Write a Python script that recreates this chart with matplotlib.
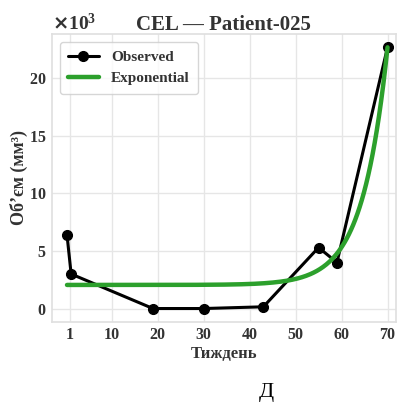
import numpy as np
import matplotlib
matplotlib.use("Agg")
import matplotlib.pyplot as plt
import seaborn as sns

# ================= DATA =================
weeks = [0.3, 1.2, 19, 30, 43, 55, 59, 70]
volume = [6400, 3000, 0, 0, 150, 5300, 4000, 22700]

# exponential model: y = base + amp * exp(rate * (x - x_ref))
fit_base = 2050
fit_amp = 20650
fit_rate = 0.184
fit_ref = 70

xticks = [1, 10, 20, 30, 40, 50, 60, 70]

# ================= STYLE =================
sns.set_theme(style="whitegrid")
plt.rcParams['font.family'] = ['Liberation Serif', 'DejaVu Serif']
plt.rcParams['font.weight'] = 'bold'
plt.rcParams['grid.color'] = '#e6e6e6'
plt.rcParams['axes.edgecolor'] = '#e0e0e0'

fig = plt.figure(figsize=(3.97, 4.03), dpi=100)
ax = fig.add_axes([0.131, 0.202, 0.866, 0.713])

ax.plot(weeks, volume, color='black', lw=2.2, marker='o', ms=7,
        label="Observed", zorder=3)

xs = np.linspace(weeks[0], weeks[-1], 300)
ys = fit_base + fit_amp * np.exp(fit_rate * (xs - fit_ref))
ax.plot(xs, ys, color='#2ca02c', lw=3.2, label="Exponential", zorder=4)

ax.set_xlim(-2.96, 71.8)
ax.set_xticks(xticks)
ax.set_yticks([0, 5000, 10000, 15000, 20000])
ax.ticklabel_format(axis='y', style='sci', scilimits=(3, 3), useMathText=True)

for lab in ax.get_xticklabels() + ax.get_yticklabels():
    lab.set_fontweight('bold')
    lab.set_fontsize(11.5)
    lab.set_color('#333333')
ax.tick_params(axis='both', length=0, pad=4)

ax.yaxis.get_offset_text().set_fontsize(14)
ax.yaxis.get_offset_text().set_fontweight('bold')
ax.yaxis.get_offset_text().set_color('#333333')

ax.set_title("CEL — Patient-025", fontsize=15, fontweight='bold',
             color='#333333', pad=3)
ax.set_xlabel("Тиждень", fontsize=12, fontweight='bold', color='#333333')
ax.xaxis.set_label_coords(0.5, -0.086)
ax.set_ylabel("Обʼєм (мм³)", fontsize=13, fontweight='bold', color='#333333')
ax.yaxis.set_label_coords(-0.07, 0.5)

leg = ax.legend(loc='upper left', fontsize=11, frameon=True,
                handlelength=2.0, borderpad=0.55)
for t in leg.get_texts():
    t.set_fontweight('bold')
    t.set_color('#333333')

fig.text(0.67, 0.027, "Д", fontsize=16, ha='center', va='center',
         color='black', fontweight='normal')

fig.savefig("out.png", dpi=100)
